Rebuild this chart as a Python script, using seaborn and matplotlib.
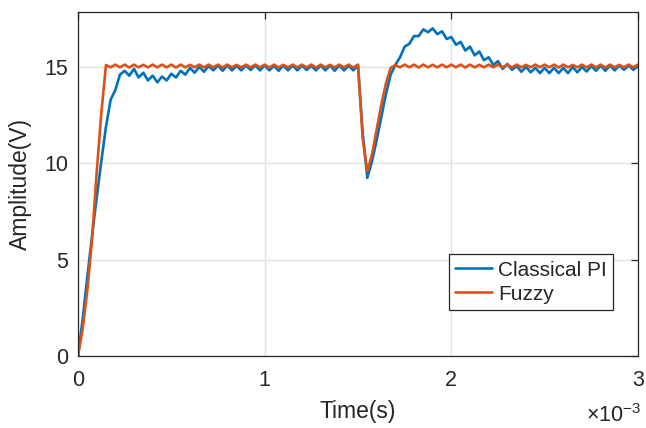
import numpy as np
import pandas as pd
import matplotlib
matplotlib.use("Agg")
import matplotlib.pyplot as plt
from matplotlib.ticker import FuncFormatter
import seaborn as sns

# samples, one every 25 us (0 .. 3 ms)
step_ms = 0.025

classical_pi = [
    0.0, 1.9, 4.1, 6.2, 8.2, 10.1, 11.9, 13.3, 13.8, 14.6,
    14.8, 14.55, 14.9, 14.45, 14.7, 14.3, 14.55, 14.2, 14.5, 14.3,
    14.65, 14.45, 14.8, 14.6, 14.95, 14.7, 15.0, 14.75, 15.05,
    14.82, 15.08, 14.8, 15.08, 14.82, 15.06, 14.82, 15.08, 14.84, 15.08,
    14.82, 15.08, 14.82, 15.06, 14.8, 15.08, 14.82, 15.08, 14.82, 15.08,
    14.84, 15.06, 14.82, 15.08, 14.82, 15.08, 14.8, 15.08, 14.82, 15.06,
    14.82, 15.08,
    11.6, 9.25, 10.1, 11.2, 12.4, 13.6, 14.6, 15.1,
    15.5, 16.05, 16.2, 16.6, 16.6, 16.95, 16.8, 17.0, 16.7, 16.85,
    16.45, 16.55, 16.15, 16.3, 15.85, 16.05, 15.6, 15.8, 15.35, 15.5,
    15.1, 15.3, 14.9, 15.15, 14.85, 15.05, 14.75, 15.0, 14.72, 14.95,
    14.68, 14.95, 14.68, 14.95, 14.68, 14.95, 14.68, 15.0, 14.72, 15.0,
    14.76, 15.05, 14.8, 15.08, 14.8, 15.08, 14.82, 15.08, 14.85, 15.08,
    14.85, 15.05,
]

fuzzy = [
    0.0, 1.4, 3.4, 6.0, 9.5, 12.6, 15.1,
    14.98, 15.12, 14.98, 15.12, 14.97, 15.12, 14.98, 15.11, 14.98, 15.12,
    14.98, 15.12, 14.98, 15.12, 14.97, 15.12, 14.98, 15.11, 14.98, 15.12,
    14.98, 15.12, 14.98, 15.12, 14.97, 15.12, 14.98, 15.11, 14.98, 15.12,
    14.98, 15.12, 14.98, 15.12, 14.97, 15.12, 14.98, 15.11, 14.98, 15.12,
    14.98, 15.12, 14.98, 15.12, 14.97, 15.12, 14.98, 15.11, 14.98, 15.12,
    14.98, 15.12, 14.97, 15.12,
    11.3, 9.6, 10.45, 11.75, 13.05, 14.15, 14.95, 15.1,
    14.98, 15.12, 14.98, 15.12, 14.97, 15.12, 14.98, 15.11, 14.98, 15.12,
    14.98, 15.12, 14.98, 15.12, 14.97, 15.12, 14.98, 15.11, 14.98, 15.12,
    14.98, 15.12, 14.98, 15.12, 14.97, 15.12, 14.98, 15.11, 14.98, 15.12,
    14.98, 15.12, 14.98, 15.12, 14.97, 15.12, 14.98, 15.11, 14.98, 15.12,
    14.98, 15.12, 14.98, 15.12, 14.97, 15.12, 14.98, 15.11, 14.98, 15.12,
    14.98, 15.12,
]

series_names = ["Classical PI", "Fuzzy"]
series_colors = ["#0072BD", "#D95319"]
x_ticks = [0, 1e-3, 2e-3, 3e-3]
y_ticks = [0, 5, 10, 15]

time_s = np.round(np.arange(len(classical_pi)) * step_ms, 3) * 1e-3
df = pd.DataFrame({"Time": time_s, series_names[0]: classical_pi, series_names[1]: fuzzy})
long_df = df.melt(id_vars="Time", var_name="Controller", value_name="Amplitude")

sns.set_theme(style="whitegrid")
plt.rcParams['font.family'] = ['Liberation Sans', 'DejaVu Sans']
plt.rcParams['mathtext.default'] = 'regular'
text_col = '#262626'

fig = plt.figure(figsize=(6.46, 4.28), dpi=100)
ax = fig.add_axes([0.1207, 0.168, 0.8669, 0.804])

sns.lineplot(data=long_df, x="Time", y="Amplitude", hue="Controller",
             palette=dict(zip(series_names, series_colors)),
             estimator=None, sort=False, linewidth=1.9, ax=ax)
for ln in ax.get_lines():
    ln.set_solid_joinstyle('round')

ax.set_xlim(0, 3e-3)
ax.set_ylim(0, 17.85)
ax.set_xticks(x_ticks)
ax.set_yticks(y_ticks)
ax.xaxis.set_major_formatter(FuncFormatter(lambda v, _: f"{v * 1e3:g}"))
ax.tick_params(direction='in', length=5, width=0.9, colors=text_col,
               top=True, right=True, labelsize=15.5)
ax.tick_params(axis='x', pad=10)
ax.tick_params(axis='y', pad=7)
for s in ax.spines.values():
    s.set_visible(True)
    s.set_color(text_col)
    s.set_linewidth(0.9)
ax.grid(True, color='#e3e3e3', linewidth=1)
ax.set_axisbelow(True)

ax.set_xlabel("Time(s)", fontsize=16.5, color=text_col)
ax.set_ylabel("Amplitude(V)", fontsize=16.5, color=text_col)
ax.xaxis.set_label_coords(0.5, -0.128)
ax.yaxis.set_label_coords(-0.082, 0.5)
ax.text(1.006, -0.14, r'$\times10^{-3}$', transform=ax.transAxes,
        ha='right', va='top', fontsize=15.5, color=text_col)

handles, labels = ax.get_legend_handles_labels()
leg = ax.legend(handles, labels, loc='lower right', bbox_to_anchor=(0.955, 0.134),
                borderaxespad=0, fontsize=15, fancybox=False, framealpha=1,
                edgecolor=text_col, handlelength=1.75, handletextpad=0.3,
                borderpad=0.3, labelspacing=0.25)
leg.get_frame().set_linewidth(0.9)
for t in leg.get_texts():
    t.set_color(text_col)

fig.savefig("out.png", dpi=100)
